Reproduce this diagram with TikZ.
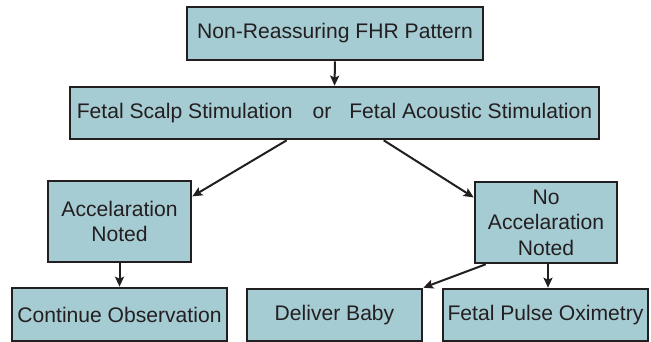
\documentclass[tikz,border=0pt]{standalone}
\usepackage{fontspec}
\setmainfont{Liberation Sans}
\usetikzlibrary{arrows.meta,calc}
\definecolor{boxfill}{HTML}{A5CBD3}
\definecolor{ink}{HTML}{231F20}
\begin{document}
\begin{tikzpicture}[x=1pt,y=-1pt,
  flowbox/.style={draw=ink, fill=boxfill, line width=2.6pt, text=ink,
    inner sep=0pt, align=center,
    font=\fontsize{21.1}{25.5}\selectfont},
  flowarrow/.style={draw=ink, line width=2pt,
    -{Stealth[length=10pt,width=9pt,inset=2pt]}}]
  \useasboundingbox (0,0) rectangle (651,342);

  % boxes
  \node[flowbox, minimum width=296pt, minimum height=53pt] (top) at (335,33.5)
    {Non-Reassuring FHR Pattern};
  \node[flowbox, minimum width=529pt, minimum height=52pt] (mid) at (334.5,113)
    {Fetal Scalp Stimulation\hspace{20pt}or\hspace{18pt}Fetal Acoustic Stimulation};
  \node[flowbox, minimum width=143pt, minimum height=81pt] (acc) at (119.5,221.5)
    {Accelaration\\Noted};
  \node[flowbox, minimum width=142pt, minimum height=81pt] (noacc) at (546,222.5)
    {No\\Accelaration\\Noted};
  \node[flowbox, minimum width=215pt, minimum height=53pt] (cont) at (119.5,314.5)
    {Continue Observation};
  \node[flowbox, minimum width=175pt, minimum height=52pt] (deliver) at (334.5,315)
    {Deliver Baby};
  \node[flowbox, minimum width=205pt, minimum height=52pt] (pulse) at (545.5,315)
    {Fetal Pulse Oximetry};

  % connectors
  \draw[flowarrow] (top.south) -- (mid.north);
  \draw[flowarrow] ($(mid.south west)+(218,0)$) -- ($(acc.north east)!0.2!(acc.south east)$);
  \draw[flowarrow] ($(mid.south west)+(315,0)$) -- ($(noacc.north west)!0.2!(noacc.south west)$);
  \draw[flowarrow] (acc.south) -- (cont.north);
  \draw[flowarrow] ($(noacc.south west)+(12,0)$) -- (deliver.north east);
  \draw[flowarrow] ($(noacc.south)+(2,0)$) -- ($(pulse.north)+(2.5,0)$);
\end{tikzpicture}
\end{document}
